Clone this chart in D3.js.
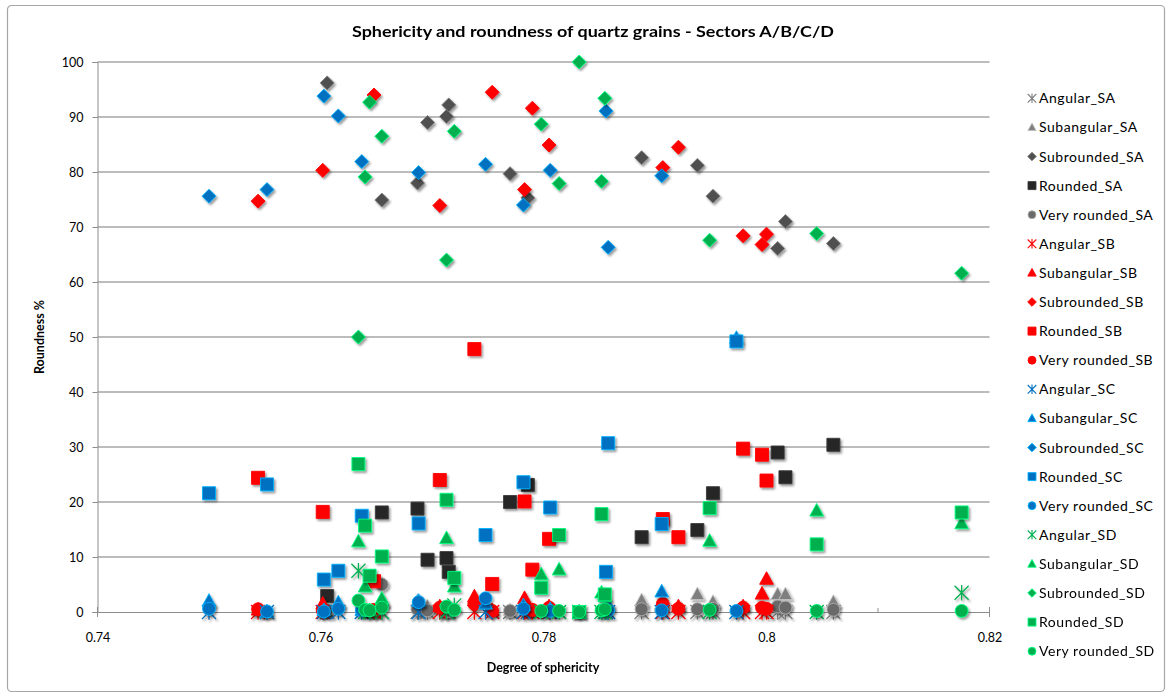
<!DOCTYPE html>
<html>
<head>
<meta charset="utf-8">
<script src="https://cdn.jsdelivr.net/npm/d3@7"></script>
<style>
  html, body { margin: 0; padding: 0; background: #fff; }
  svg { display: block; }
  text { font-family: Lato, "Open Sans", "Liberation Sans", sans-serif; fill: #000; }
</style>
</head>
<body>
<svg id="chart" width="1172" height="697"></svg>
<script>
// Roundness classes and sectors (one series per class and sector)
const classes = ["Angular", "Subangular", "Subrounded", "Rounded", "Very rounded"];
const sectors = ["SA", "SB", "SC", "SD"];

// Sector A: degree of sphericity per sample and roundness % per class
const sphericity_SA = [0.7606, 0.7655, 0.7687, 0.7696, 0.7713, 0.7715, 0.7770, 0.7786, 0.7888, 0.7938, 0.7952, 0.8010, 0.8017, 0.8060];
const angular_SA     = [0, 0, 0, 0, 0, 0, 0, 0, 0, 0, 0, 0, 0, 0];
const subangular_SA  = [0.5, 2.0, 2.0, 1.0, 0.2, 0.3, 0.3, 1.0, 2.1, 3.2, 1.8, 3.2, 3.2, 1.8];
const subrounded_SA  = [96.2, 74.9, 78.0, 89.0, 90.1, 92.2, 79.7, 75.3, 82.6, 81.2, 75.6, 66.1, 71.0, 67.0];
const rounded_SA     = [2.9, 18.1, 18.8, 9.5, 9.8, 7.3, 20.0, 23.1, 13.6, 14.9, 21.6, 29.0, 24.5, 30.4];
const veryRounded_SA = [0.4, 5.0, 0.5, 0.3, 0.2, 0.2, 0.2, 0.4, 0.5, 0.5, 0.6, 1.0, 0.8, 0.4];

// Sector B
const sphericity_SB = [0.7544, 0.7602, 0.7648, 0.7707, 0.7738, 0.7754, 0.7783, 0.7790, 0.7805, 0.7907, 0.7921, 0.7979, 0.7996, 0.8000];
const angular_SB     = [0, 0, 0, 0, 0, 0, 0, 0, 0, 0, 0, 0, 0, 0];
const subangular_SB  = [0.4, 1.5, 0, 1.0, 2.8, 0.3, 2.5, 0.3, 1.0, 0.8, 1.0, 1.0, 3.3, 6.0];
const subrounded_SB  = [74.7, 80.3, 94.0, 73.9, null, 94.5, 76.8, 91.6, 84.9, 80.8, 84.5, 68.4, 66.8, 68.7];
const rounded_SB     = [24.4, 18.2, 5.6, 24.0, 47.8, 5.1, 20.1, 7.7, 13.3, 16.9, 13.6, 29.7, 28.6, 23.9];
const veryRounded_SB = [0.5, 0.3, 0.4, 0.8, 1.5, 0.2, 0.6, 0.4, 0.8, 1.5, 0.6, 0.8, 0.8, 0.6];

// Sector C
const sphericity_SC = [0.7500, 0.7552, 0.7603, 0.7616, 0.7637, 0.7688, 0.7748, 0.7782, 0.7806, 0.7856, 0.7858, 0.7906, 0.7973];
const angular_SC     = [0, 0, 0, 0, 0, 0, 0, 0, 0, 0, 0, 0, 0];
const subangular_SC  = [2.0, 0, 0.3, 1.7, 0.3, 2.0, 1.5, 1.2, 0.5, 1.0, 1.2, 3.7, 49.8];
const subrounded_SC  = [75.6, 76.8, 93.8, 90.2, 81.9, 79.9, 81.4, 74.0, 80.3, 91.1, 66.3, 79.3, null];
const rounded_SC     = [21.6, 23.2, 5.9, 7.5, 17.5, 16.1, 14.0, 23.6, 19.0, 7.3, 30.7, 16.0, 49.2];
const veryRounded_SC = [0.6, 0.1, 0.1, 0.6, 0.3, 1.8, 2.5, 0.6, 0.2, 0.4, 0.3, 0.3, 0.2];

// Sector D
const sphericity_SD = [0.7634, 0.7640, 0.7644, 0.7655, 0.7713, 0.7720, 0.7798, 0.7814, 0.7832, 0.7852, 0.7855, 0.7949, 0.8045, 0.8175];
const angular_SD     = [7.5, 0, 0, 0, 0, 1.2, 0, 0, 0, 0, 0, 0, 0, 3.5];
const subangular_SD  = [12.8, 4.6, 0.3, 2.4, 13.4, 4.6, 6.8, 7.7, 0, 3.5, 2.8, 12.9, 18.4, 16.1];
const subrounded_SD  = [50.0, 79.1, 92.7, 86.5, 64.0, 87.4, 88.7, 77.9, 100, 78.3, 93.4, 67.6, 68.8, 61.6];
const rounded_SD     = [26.9, 15.7, 6.6, 10.1, 20.4, 6.2, 4.4, 14.0, 0, 17.8, 3.2, 18.9, 12.3, 18.1];
const veryRounded_SD = [2.1, 0.4, 0.3, 0.8, 1.0, 0.4, 0.2, 0.2, 0, 0.3, 0.5, 0.4, 0.2, 0.2];

// Axis ticks
const xTicks = [0.74, 0.76, 0.78, 0.80, 0.82];
const xMinorTicks = [0.75, 0.77, 0.79, 0.81];
const yTicks = [0, 10, 20, 30, 40, 50, 60, 70, 80, 90, 100];

const sectorData = {
  SA: { x: sphericity_SA, v: [angular_SA, subangular_SA, subrounded_SA, rounded_SA, veryRounded_SA] },
  SB: { x: sphericity_SB, v: [angular_SB, subangular_SB, subrounded_SB, rounded_SB, veryRounded_SB] },
  SC: { x: sphericity_SC, v: [angular_SC, subangular_SC, subrounded_SC, rounded_SC, veryRounded_SC] },
  SD: { x: sphericity_SD, v: [angular_SD, subangular_SD, subrounded_SD, rounded_SD, veryRounded_SD] }
};

const colors = {
  SA: ["#7f7f7f", "#7f7f7f", "#505050", "#262626", "#6a6a6a"],
  SB: ["#ff0000", "#ff0000", "#ff0000", "#ff0000", "#ff0000"],
  SC: ["#0070c0", "#0070c0", "#0070c0", "#0070c0", "#0070c0"],
  SD: ["#00b050", "#00b050", "#00b050", "#00b050", "#00b050"]
};
const shapes = ["asterisk", "triangle", "diamond", "square", "circle"];

// Build series in drawing order
const series = [];
sectors.forEach(s => {
  classes.forEach((c, ci) => {
    const d = sectorData[s];
    series.push({
      name: c + "_" + s,
      shape: shapes[ci],
      color: colors[s][ci],
      points: d.x.map((xv, i) => ({ x: xv, y: d.v[ci][i] })).filter(p => p.y !== null)
    });
  });
});

const svg = d3.select("#chart");

// Drop shadow for markers
const defs = svg.append("defs");
const f = defs.append("filter").attr("id", "shadow")
  .attr("x", "-50%").attr("y", "-50%").attr("width", "200%").attr("height", "200%");
f.append("feDropShadow").attr("dx", 1.6).attr("dy", 2).attr("stdDeviation", 1.3)
  .attr("flood-color", "#000").attr("flood-opacity", 0.4);

// Chart area border
svg.append("rect")
  .attr("x", 7.5).attr("y", 5.5).attr("width", 1157).attr("height", 686)
  .attr("rx", 4).attr("fill", "#fff").attr("stroke", "#a6a6a6").attr("stroke-width", 1.2);

const x = d3.scaleLinear().domain([0.74, 0.82]).range([97.5, 989.5]);
const y = d3.scaleLinear().domain([0, 100]).range([612, 62]);

// Horizontal gridlines
svg.append("g").selectAll("line").data(yTicks.filter(t => t > 0)).join("line")
  .attr("x1", x(0.74)).attr("x2", x(0.82))
  .attr("y1", d => y(d)).attr("y2", d => y(d))
  .attr("stroke", "#7a7a7a").attr("stroke-width", 1.2);

// Y axis
const yAxis = d3.axisLeft(y).tickValues(yTicks).tickSize(5).tickPadding(9).tickFormat(d3.format("d"));
const gy = svg.append("g").attr("transform", `translate(${x(0.74)},0)`).call(yAxis);
gy.select(".domain").attr("stroke", "#8c8c8c");
gy.selectAll(".tick line").attr("stroke", "#8c8c8c");
gy.selectAll(".tick text").style("font-family", "Lato, 'Open Sans', sans-serif").style("font-size", "12.5px").attr("fill", "#000");

// X axis
const xAxis = d3.axisBottom(x).tickValues(xTicks).tickSize(0).tickPadding(21)
  .tickFormat(d => d3.format("")(+d.toFixed(2)));
const gx = svg.append("g").attr("transform", `translate(0,${y(0)})`).call(xAxis);
gx.select(".domain").attr("stroke", "#8c8c8c");
gx.selectAll(".tick text").style("font-family", "Lato, 'Open Sans', sans-serif").style("font-size", "12.5px").attr("fill", "#000");
gx.selectAll(".tick line").remove();
svg.append("g").selectAll("line").data(xTicks).join("line")
  .attr("x1", d => x(d)).attr("x2", d => x(d)).attr("y1", y(0) - 5).attr("y2", y(0) + 5)
  .attr("stroke", "#8c8c8c");
svg.append("g").selectAll("line").data(xMinorTicks).join("line")
  .attr("x1", d => x(d)).attr("x2", d => x(d)).attr("y1", y(0) - 4).attr("y2", y(0))
  .attr("stroke", "#8c8c8c");

// Marker path builders
function markerPath(shape, r) {
  const p = d3.path();
  if (shape === "asterisk") {
    p.moveTo(-r, -r); p.lineTo(r, r);
    p.moveTo(-r, r); p.lineTo(r, -r);
    p.moveTo(0, -r * 1.1); p.lineTo(0, r * 1.1);
  } else if (shape === "triangle") {
    p.moveTo(0, -r * 1.05); p.lineTo(r * 0.98, r * 0.75); p.lineTo(-r * 0.98, r * 0.75); p.closePath();
  } else if (shape === "diamond") {
    p.moveTo(0, -r); p.lineTo(r, 0); p.lineTo(0, r); p.lineTo(-r, 0); p.closePath();
  } else if (shape === "square") {
    p.rect(-r * 0.93, -r * 0.93, r * 1.86, r * 1.86);
  } else {
    p.arc(0, 0, r * 0.92, 0, 2 * Math.PI);
  }
  return p.toString();
}

function styleMarker(sel, s, width) {
  if (s.shape === "asterisk") {
    sel.attr("fill", "none").attr("stroke", s.color).attr("stroke-width", width);
  } else {
    sel.attr("fill", s.color)
      .attr("stroke", d3.color(s.color).brighter(1.3).formatHex())
      .attr("stroke-width", 0.9);
  }
}

// Plot series
const plot = svg.append("g");
series.forEach(s => {
  const g = plot.append("g").attr("filter", "url(#shadow)");
  const m = g.selectAll("path").data(s.points).join("path")
    .attr("d", markerPath(s.shape, 7))
    .attr("transform", d => `translate(${x(d.x)},${y(d.y)})`);
  styleMarker(m, s, 1.3);
});

// Legend
const legend = svg.append("g");
series.forEach((s, i) => {
  const ly = 98.3 + i * 29.1;
  const m = legend.append("path")
    .attr("d", markerPath(s.shape, 4.3))
    .attr("transform", `translate(1032,${ly})`);
  styleMarker(m, s, 1.1);
  legend.append("text")
    .attr("x", 1039).attr("y", ly).attr("dy", "0.36em")
    .style("font-size", "14px").style("letter-spacing", "0.55px")
    .text(s.name);
});

// Titles
svg.append("text")
  .attr("x", 593).attr("y", 37).attr("text-anchor", "middle")
  .attr("textLength", 482).attr("lengthAdjust", "spacingAndGlyphs")
  .style("font-size", "16px").style("font-weight", "bold")
  .text("Sphericity and roundness of quartz grains - Sectors A/B/C/D");

svg.append("text")
  .attr("x", 543).attr("y", 672).attr("text-anchor", "middle")
  .style("font-size", "12.5px").style("font-weight", "bold")
  .text("Degree of sphericity");

svg.append("text")
  .attr("transform", "translate(44,337) rotate(-90)").attr("text-anchor", "middle")
  .style("font-size", "12.5px").style("font-weight", "bold")
  .text("Roundness %");
</script>
</body>
</html>
